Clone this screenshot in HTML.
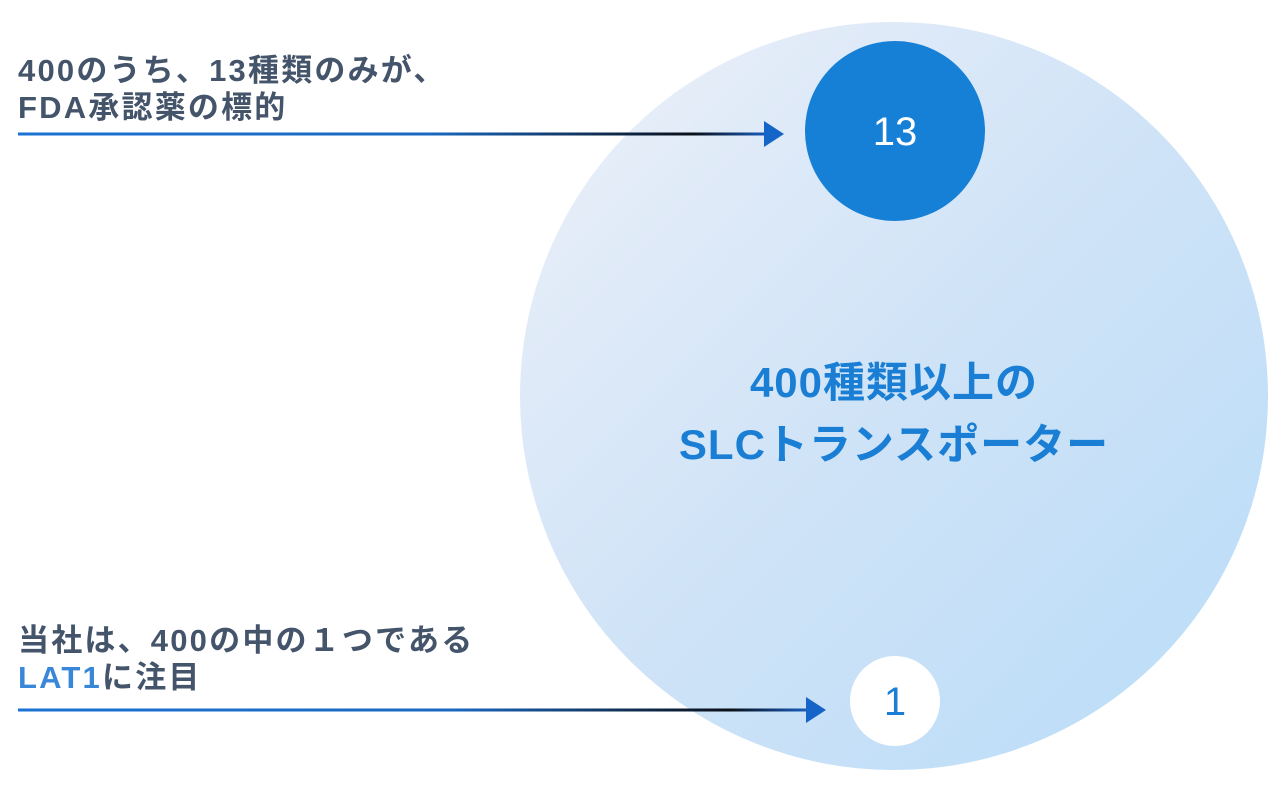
<!DOCTYPE html>
<html><head><meta charset="utf-8"><style>
html,body{margin:0;padding:0;background:#fff;}
body{width:1287px;height:796px;position:relative;overflow:hidden;font-family:"Liberation Sans","Noto Sans CJK JP",sans-serif;}
.t{position:absolute;left:18px;font-weight:bold;font-size:31px;line-height:37px;color:#44546a;white-space:nowrap;letter-spacing:2.2px}
</style></head><body>
<svg width="1287" height="796" style="position:absolute;left:0;top:0">
<defs>
<linearGradient id="bg" x1="0" y1="0" x2="1" y2="1">
<stop offset="0" stop-color="#eef1f9"/>
<stop offset="0.5" stop-color="#cfe3f7"/>
<stop offset="1" stop-color="#b8dcf8"/>
</linearGradient>
<linearGradient id="ln" x1="0" y1="0" x2="1" y2="0">
<stop offset="0" stop-color="#1a72d4"/>
<stop offset="0.55" stop-color="#1a68c0"/>
<stop offset="0.9" stop-color="#0a0f18"/>
<stop offset="1" stop-color="#1a5fc0"/>
</linearGradient>
</defs>
<circle cx="894" cy="396" r="374" fill="url(#bg)"/>
<circle cx="895" cy="131" r="90" fill="#167fd6"/>
<circle cx="895" cy="701" r="45" fill="#fff"/>
<rect x="18" y="132.5" width="750" height="3" fill="url(#ln)"/>
<polygon points="764,121 784,134 764,147" fill="#1565c8"/>
<rect x="18" y="708.5" width="790" height="3" fill="url(#ln)"/>
<polygon points="806,697 826,710 806,723" fill="#1565c8"/>
<text x="895" y="145" text-anchor="middle" font-family="Liberation Sans, sans-serif" font-size="40" fill="#fff">13</text>
<text x="895" y="715" text-anchor="middle" font-family="Liberation Sans, sans-serif" font-size="40" fill="#1a7fd4">1</text>
</svg>
<div class="t" style="top:52px">400のうち、13種類のみが、<br>FDA承認薬の標的</div>
<div class="t" style="top:622px">当社は、400の中の１つである<br><span style="color:#3a86d8">LAT1</span>に注目</div>
<div style="position:absolute;left:494px;width:800px;top:352px;text-align:center;font-weight:bold;font-size:42px;line-height:62px;letter-spacing:1px;color:#1a7fd4;">400種類以上の<br>SLCトランスポーター</div>
</body></html>
